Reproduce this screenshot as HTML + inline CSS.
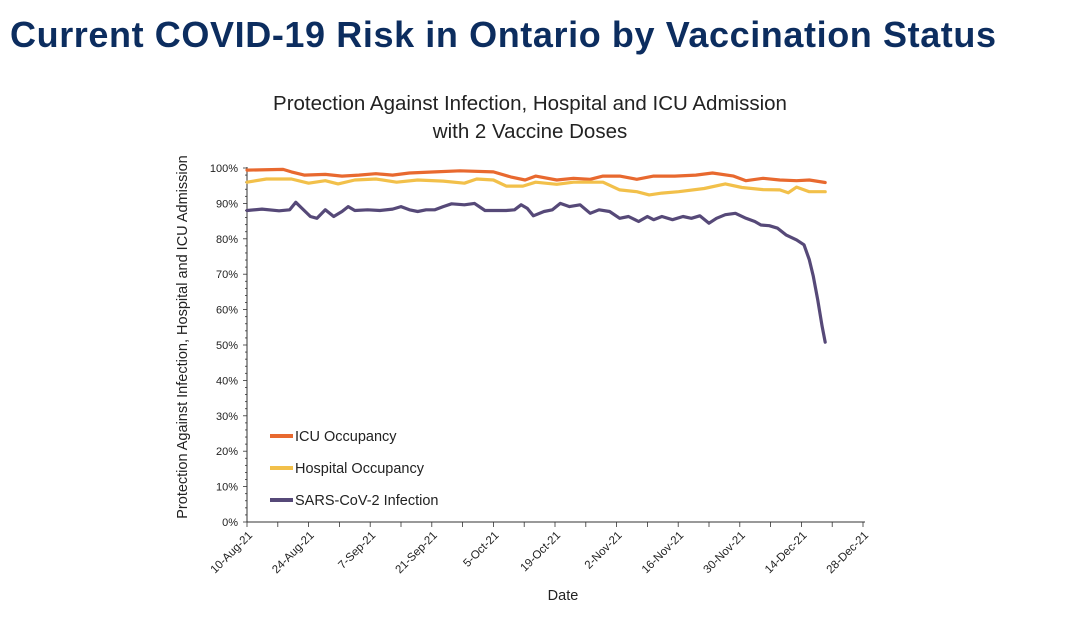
<!DOCTYPE html>
<html><head><meta charset="utf-8"><style>
body{margin:0;width:1077px;height:617px;background:#fff;overflow:hidden;font-family:"Liberation Sans",sans-serif}
#t{position:absolute;left:10px;top:14px;font-size:36px;font-weight:bold;color:#0c2d5f;letter-spacing:0.6px;white-space:nowrap}
</style></head><body>
<div id="t">Current COVID-19 Risk in Ontario by Vaccination Status</div>
<svg id="c" width="1077" height="617" style="position:absolute;left:0;top:0"></svg>
<script>
const tickLabels=["10-Aug-21","24-Aug-21","7-Sep-21","21-Sep-21","5-Oct-21","19-Oct-21","2-Nov-21","16-Nov-21","30-Nov-21","14-Dec-21","28-Dec-21"];
const yTicks=[0,10,20,30,40,50,60,70,80,90,100];
const icuDays=[0,8.2,10.1,13,17.8,21.6,25.4,29.3,33.1,36.9,42.7,48.4,56,59.9,63.2,65.6,70.4,74.2,78,80.9,84.7,88.6,92.4,97.2,102,105.8,110.6,113.4,117.3,121.1,124.9,127.8,131.4];
const icuVals=[99.4,99.6,98.9,98,98.2,97.7,98,98.4,98,98.6,98.9,99.2,98.9,97.5,96.6,97.7,96.6,97.1,96.8,97.7,97.7,96.8,97.7,97.7,98,98.6,97.7,96.4,97.1,96.6,96.4,96.6,95.9];
const hospDays=[0,4.4,10.1,14,17.8,20.7,24.5,29.3,34,38.8,44.6,49.4,52.2,56,58.9,62.7,65.6,70.4,74.2,78,80.9,84.7,88.6,91.4,94.3,98.1,103.9,108.7,112.5,117.3,121.1,123,124.9,127.8,131.4];
const hospVals=[96,96.9,96.9,95.7,96.4,95.5,96.6,96.9,96,96.6,96.3,95.7,96.9,96.6,94.9,94.9,96,95.4,96,96,96,93.8,93.3,92.4,92.9,93.3,94.2,95.5,94.5,93.9,93.8,93,94.6,93.3,93.3];
const infDays=[0,3.4,7.3,9.7,11.1,12.5,14.4,15.9,17.8,19.7,21.6,23,24.5,27.4,30.2,33.1,35,36.9,38.8,40.7,42.7,44.6,46.5,49.4,51.7,54.1,56,58.9,60.8,62.3,63.7,65.1,67.5,69.4,71.2,73.3,75.7,78,80,82.4,84.7,86.7,89,91,92.4,94.3,96.7,99.1,101,102.9,105,106.7,108.7,111,113.4,115.4,116.8,118.7,120.6,122.5,124.9,126.6,127.8,128.7,129.7,130.7,131.4];
const infVals=[88,88.4,87.9,88.2,90.3,88.6,86.3,85.8,88.2,86.3,87.7,89.1,88,88.2,88,88.4,89.1,88.2,87.7,88.2,88.2,89.1,89.9,89.6,90,88,88,88,88.2,89.6,88.6,86.5,87.7,88.2,90,89.1,89.6,87.2,88.2,87.7,85.8,86.3,84.9,86.3,85.4,86.3,85.4,86.3,85.8,86.5,84.4,85.8,86.8,87.2,85.8,84.9,83.9,83.7,83,81.1,79.7,78.3,74.1,69.4,62.8,55.3,50.8];
const legendNames=["ICU Occupancy","Hospital Occupancy","SARS-CoV-2 Infection"];
const colors=["#e8692f","#f2c04a","#564978"];

const X0=247,PXD=4.4,Y0=522,PXP=3.54;
const xS=d=>X0+d*PXD, yS=v=>Y0-v*PXP;
const svg=document.getElementById('c'),NS="http://www.w3.org/2000/svg";
function mk(tag,at,txt){const e=document.createElementNS(NS,tag);for(const k in at)e.setAttribute(k,at[k]);if(txt!=null)e.textContent=txt;svg.appendChild(e);return e;}
const f='"Liberation Sans",sans-serif';
let e;
e=mk('text',{x:530,y:110,'text-anchor':'middle','font-size':20.5,fill:'#222','font-family':f},'Protection Against Infection, Hospital and ICU Admission');


e=mk('text',{x:530,y:138,'text-anchor':'middle','font-size':20.5,fill:'#222','font-family':f},'with 2 Vaccine Doses');


e=mk('text',{x:0,y:0,transform:'translate(187,337) rotate(-90)','text-anchor':'middle','font-size':14.5,fill:'#222','font-family':f},'Protection Against Infection, Hospital and ICU Admission');


e=mk('text',{x:563,y:600,'text-anchor':'middle','font-size':14.5,fill:'#222','font-family':f},'Date');


e=mk('line',{x1:X0,y1:yS(100)-1,x2:X0,y2:Y0,stroke:'#333','stroke-width':1});


e=mk('line',{x1:X0,y1:Y0,x2:xS(140)+2,y2:Y0,stroke:'#333','stroke-width':1});


for(let v=0;v<=100;v+=2){mk('line',{x1:X0-(v%10?2:4),y1:yS(v),x2:X0,y2:yS(v),stroke:'#333','stroke-width':0.8});}
yTicks.forEach(v=>{e=mk('text',{x:X0-9,y:yS(v)+4,'text-anchor':'end','font-size':11,fill:'#222','font-family':f},v+'%');

});
for(let d=0;d<=140;d+=7){mk('line',{x1:xS(d),y1:Y0,x2:xS(d),y2:Y0+5,stroke:'#333','stroke-width':0.8});}
tickLabels.forEach((t,i)=>{const x=xS(i*14)+6,y=Y0+14;
e=mk('text',{x:x,y:y,transform:`rotate(-45 ${x} ${y})`,'text-anchor':'end','font-size':11.5,fill:'#222','font-family':f},t);

});
const series=[[icuDays,icuVals],[hospDays,hospVals],[infDays,infVals]];
const sn=['icu-occupancy-line','hospital-occupancy-line','infection-line'];
series.forEach((s,i)=>{const pts=s[0].map((d,j)=>xS(d).toFixed(1)+','+yS(s[1][j]).toFixed(1)).join(' ');
e=mk('polyline',{points:pts,fill:'none',stroke:colors[i],'stroke-width':3.2,'stroke-linejoin':'round','stroke-linecap':'round'});

});
legendNames.forEach((n,i)=>{const y=436+i*32;
e=mk('line',{x1:270,y1:y,x2:293,y2:y,stroke:colors[i],'stroke-width':4});


e=mk('text',{x:295,y:y+5,'font-size':14.5,fill:'#222','font-family':f},n);

});
</script>
</body></html>
